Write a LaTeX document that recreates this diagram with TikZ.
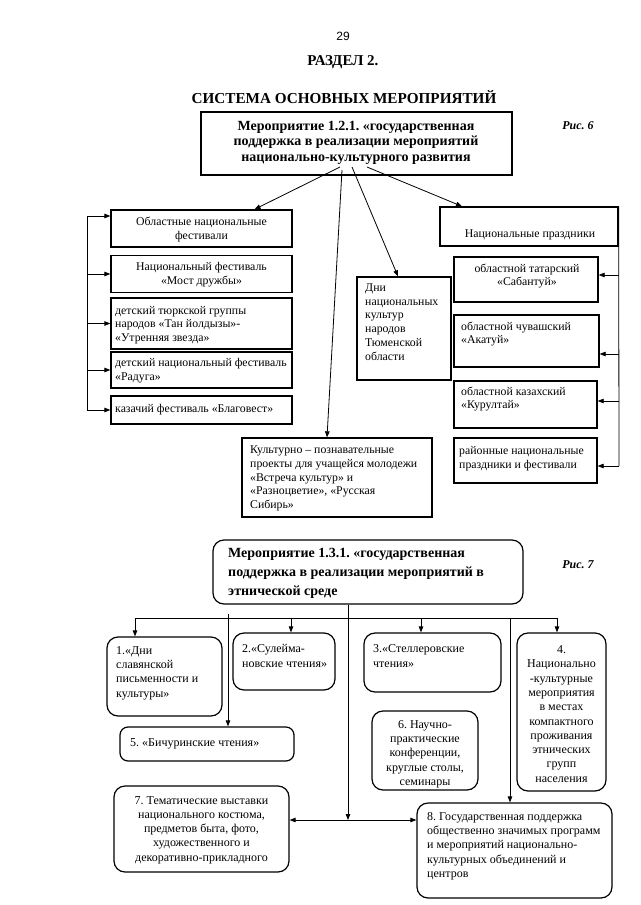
\documentclass[tikz,border=0pt]{standalone}
\usepackage{fontspec}
\setmainfont{Liberation Serif}
\newfontfamily\sansf{Liberation Sans}
\usetikzlibrary{arrows.meta,calc}
\newcommand\fsixfont{\fontsize{11.8}{13.7}\selectfont}
\newcommand\fsevfont{\fontsize{12}{14.3}\selectfont}
\frenchspacing
\begin{document}
\begin{tikzpicture}[x=1pt,y=-1pt,
  box/.style={draw, line width=1.3pt, inner sep=0pt},
  rbox/.style={draw, line width=1.2pt, rounded corners=11pt, inner sep=0pt},
  txt6/.style={inner sep=0pt, font=\fsixfont},
  txt7/.style={inner sep=0pt, font=\fsevfont},
  arr/.style={line width=0.8pt, -{Triangle[length=6pt,width=4.5pt]}},
  ln/.style={line width=0.8pt},
]
\path[use as bounding box, fill=white] (0,0) rectangle (640,905);

% ---------- headings ----------
\node[font=\sansf\fontsize{12}{14}\selectfont] (pnum) at (343,36) {29};
\node[font=\bfseries\fontsize{15}{18}\selectfont] (razdel) at (343,62) {РАЗДЕЛ 2.};
\node[font=\bfseries\fontsize{15.2}{18}\selectfont] (sistema) at (344,97) {СИСТЕМА ОСНОВНЫХ МЕРОПРИЯТИЙ};
\node[font=\bfseries\itshape\fontsize{12}{14}\selectfont] (ris6) at (578,126) {Рис. 6};

% ---------- figure 6 ----------
\node[box, line width=1.8pt, minimum width=311pt, minimum height=63pt] (top6) at (356.5,143.5) {};
\node[font=\bfseries\fontsize{14}{15.6}\selectfont, align=center, inner sep=0pt] (top6t) at (356,142.5)
  {Мероприятие 1.2.1. «государственная\\поддержка в реализации мероприятий\\национально-культурного развития};

% left column
\node[box, minimum width=181pt, minimum height=37pt] (fA) at (201.5,228.5) {};
\node[txt6, align=center] (fAt) at (201.5,229.5) {Областные национальные\\фестивали};
\node[box, minimum width=181pt, minimum height=37pt] (fB) at (201.5,274) {};
\node[txt6, align=center] (fBt) at (201.5,275) {Национальный фестиваль\\«Мост дружбы»};
\node[box, minimum width=181pt, minimum height=51pt] (fC) at (201.5,323.5) {};
\node[txt6, align=left, anchor=west] (fCt) at (115,325) {детский тюркской группы\\народов «Тан йолдызы»-\\«Утренняя звезда»};
\node[box, minimum width=181pt, minimum height=36pt] (fD) at (201.5,370) {};
\node[txt6, align=left, anchor=west] (fDt) at (115,371) {детский национальный фестиваль\\«Радуга»};
\node[box, minimum width=181pt, minimum height=28pt] (fE) at (201.5,410) {};
\node[txt6, anchor=west] (fEt) at (115,410) {казачий фестиваль «Благовест»};

% centre
\node[box, minimum width=94pt, minimum height=103pt] (dni) at (404,328.5) {};
\node[txt6, align=left, anchor=west] (dnit) at (365,322) {Дни\\национальных\\культур\\народов\\Тюменской\\области};
\node[box, minimum width=190pt, minimum height=79pt] (cult) at (337,477.5) {};
\node[txt6, align=left, anchor=west] (cultt) at (250,478.5) {Культурно -- познавательные\\проекты для учащейся молодежи\\«Встреча культур» и\\«Разноцветие», «Русская\\Сибирь»};

% right column
\node[box, minimum width=178pt, minimum height=39pt] (prazd) at (529,226.5) {};
\node[txt6] (prazdt) at (530,235) {Национальные праздники};
\node[box, minimum width=144pt, minimum height=45pt] (sab) at (526,279.5) {};
\node[txt6, align=center] (sabt) at (527,276) {областной татарский\\«Сабантуй»};
\node[box, minimum width=145pt, minimum height=52pt] (akat) at (526.5,341) {};
\node[txt6, align=left, anchor=west] (akatt) at (461,334) {областной чувашский\\«Акатуй»};
\node[box, minimum width=143pt, minimum height=47pt] (kur) at (525.5,404.5) {};
\node[txt6, align=left, anchor=west] (kurt) at (461,399) {областной казахский\\«Курултай»};
\node[box, minimum width=143pt, minimum height=45pt] (raion) at (525.5,460.5) {};
\node[txt6, align=left, anchor=west] (raiont) at (459,459) {районные национальные\\праздники и фестивали};

% connectors from top box
\coordinate (s1) at (340,167);
\coordinate (s2) at (342,170);
\coordinate (s3) at (352,167);
\coordinate (s4) at (367,167);
\draw[arr] (s1) -- ($(fA.north)+(53,0)$);
\draw[arr] (s2) -- ($(cult.north)+(-10,0)$);
\draw[arr] (s3) -- ($(dni.north)+(-6,0)$);
\draw[arr] (s4) -- ($(prazd.north)+(-67,0)$);

% left bracket
\coordinate (lbA) at (87,216);
\draw[ln] (lbA) -- (lbA |- fE.west);
\draw[arr] (lbA) -- (lbA -| fA.west);
\draw[arr] (lbA |- fB.west) -- (fB.west);
\draw[arr] (lbA |- fC.west) -- (fC.west);
\draw[arr] (lbA |- fD.west) -- (fD.west);
\draw[arr] (lbA |- fE.west) -- (fE.west);

% right bracket
\coordinate (rb1) at (619,275);
\coordinate (rb2) at (619,354);
\coordinate (rb3) at (619,401);
\coordinate (rb4) at (619,466);
\draw[ln] (prazd.north east) -- (rb4);
\draw[arr] (rb1) -- (rb1 -| sab.east);
\draw[arr] (rb2) -- (rb2 -| akat.east);
\draw[arr] (rb3) -- (rb3 -| kur.east);
\draw[arr] (rb4) -- (rb4 -| raion.east);

% ---------- figure 7 ----------
\node[font=\bfseries\itshape\fontsize{12}{14}\selectfont] (ris7) at (578,565) {Рис. 7};
\node[rbox, minimum width=310pt, minimum height=64pt] (top7) at (368,572) {};
\node[font=\bfseries\fontsize{14}{19}\selectfont, align=left, anchor=west, inner sep=0pt] (top7t) at (228,573)
  {Мероприятие 1.3.1. «государственная\\поддержка в реализации мероприятий в\\этнической среде};

\node[rbox, minimum width=115pt, minimum height=79pt] (b1) at (164.5,676.5) {};
\node[txt7, align=left, anchor=west] (b1t) at (116,673) {1.«Дни\\славянской\\письменности и\\культуры»};
\node[rbox, minimum width=102pt, minimum height=57pt] (b2) at (284,661.5) {};
\node[txt7, align=left, anchor=west] (b2t) at (242,656) {2.«Сулейма-\\новские чтения»};
\node[rbox, minimum width=137pt, minimum height=59pt] (b3) at (432.5,662.5) {};
\node[txt7, align=left, anchor=west] (b3t) at (373,656) {3.«Стеллеровские\\чтения»};
\node[rbox, minimum width=89pt, minimum height=158pt] (b4) at (561.5,712) {};
\node[txt7, align=center] (b4t) at (561.5,714) {4.\\Национально\\-культурные\\мероприятия\\в местах\\компактного\\проживания\\этнических\\групп\\населения};
\node[rbox, rounded corners=8pt, minimum width=174pt, minimum height=34pt] (b5) at (207,744) {};
\node[txt7, anchor=west] (b5t) at (130,744) {5. «Бичуринские чтения»};
\node[rbox, minimum width=106pt, minimum height=79pt] (b6) at (425,750.5) {};
\node[txt7, align=center] (b6t) at (425,754) {6. Научно-\\практические\\конференции,\\круглые столы,\\семинары};
\node[rbox, minimum width=175pt, minimum height=86pt] (b7) at (201.5,829) {};
\node[txt7, align=center] (b7t) at (201.5,830) {7. Тематические выставки\\национального костюма,\\предметов быта, фото,\\художественного и\\декоративно-прикладного};
\node[rbox, minimum width=195pt, minimum height=95pt] (b8) at (514.5,850.5) {};
\node[txt7, align=left, anchor=west] (b8t) at (427,846) {8. Государственная поддержка\\общественно значимых программ\\и мероприятий национально-\\культурных объединений и\\центров};

% connectors figure 7
\coordinate (hub7) at ($(top7.south)+(-20,0)$);
\coordinate (c1) at (135,618);
\coordinate (c2) at (291,618);
\coordinate (c3) at (421,618);
\coordinate (c4) at (557,618);
\coordinate (cL) at (228,618);
\coordinate (cR) at (510,618);
\coordinate (hm) at (348,820);
\draw[ln] (c1) -- (c4);
\draw[arr] (c1) -- (c1 |- b1.north);
\draw[arr] (c2) -- (c2 |- b2.north);
\draw[arr] (c3) -- (c3 |- b3.north);
\draw[arr] (c4) -- (c4 |- b4.north);
\draw[arr] ($(cL)+(0,-4)$) -- (cL |- b5.north);
\draw[arr] (cR) -- (cR |- b8.north);
\draw[arr] (hub7) -- (hm);
\draw[arr] (hm) -- (hm -| b7.east);
\draw[arr] (hm) -- (hm -| b8.west);
\end{tikzpicture}
\end{document}
